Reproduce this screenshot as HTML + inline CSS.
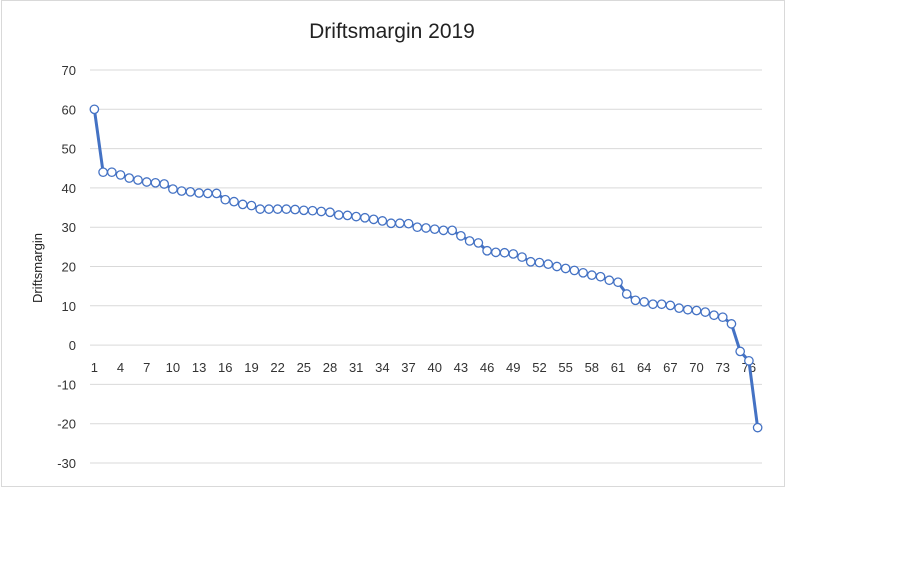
<!DOCTYPE html>
<html><head><meta charset="utf-8"><style>
body{margin:0;background:#fff;width:900px;height:581px;overflow:hidden;font-family:"Liberation Sans",sans-serif}
</style></head><body>
<svg id="chart" width="900" height="581" xmlns="http://www.w3.org/2000/svg">
<rect x="1.5" y="0.5" width="783" height="486" fill="#fff" stroke="#d9d9d9"/>
<text x="392" y="38" text-anchor="middle" font-size="21" fill="#222">Driftsmargin 2019</text>
<text transform="translate(42,268) rotate(-90)" text-anchor="middle" font-size="13" fill="#222">Driftsmargin</text>
<g id="grid"></g><g id="series"></g>
</svg>
<script>
const yTicks=[70,60,50,40,30,20,10,0,-10,-20,-30];
const values=[60,44,44,43.3,42.5,42,41.5,41.3,41,39.7,39.2,39,38.7,38.6,38.6,37,36.5,35.8,35.5,34.6,34.6,34.6,34.6,34.5,34.3,34.2,34,33.8,33.1,33,32.7,32.4,32,31.6,31,31,30.9,30,29.8,29.5,29.2,29.2,27.8,26.5,26,24,23.6,23.5,23.2,22.4,21.2,21,20.6,20,19.5,19,18.4,17.8,17.4,16.5,16,13,11.4,11,10.4,10.4,10.1,9.4,9,8.8,8.4,7.6,7.1,5.4,-1.6,-4,-21];
const categories=values.map((v,i)=>i+1);
const ns="http://www.w3.org/2000/svg";
const L=90,R=762,T=70,B=463;
const yMin=-30,yMax=70;
const y=v=>T+(yMax-v)/(yMax-yMin)*(B-T);
const cw=(R-L)/categories.length;
const x=i=>L+cw*(i+0.5);
const grid=document.getElementById('grid'),ser=document.getElementById('series');
function mk(tag,attrs,parent){const e=document.createElementNS(ns,tag);for(const k in attrs)e.setAttribute(k,attrs[k]);parent.appendChild(e);return e;}
yTicks.forEach(t=>{
 const g=mk('line',{x1:L,x2:R,y1:y(t),y2:y(t),stroke:'#d9d9d9','stroke-width':1},grid);
 
 
 const tx=mk('text',{x:76,y:y(t)+5,'text-anchor':'end','font-size':13,fill:'#333'},grid);
 tx.textContent=t;
 
 
});
categories.forEach((c,i)=>{
 if(i%3!==0)return;
 const tx=mk('text',{x:x(i),y:y(0)+27,'text-anchor':'middle','font-size':13,fill:'#333'},grid);
 tx.textContent=c;
 
 
});
const pts=values.map((v,i)=>x(i)+','+y(v)).join(' ');
const pl=mk('polyline',{points:pts,fill:'none',stroke:'#4472c4','stroke-width':3,'stroke-linejoin':'round'},ser);


values.forEach((v,i)=>{
 const c=mk('circle',{cx:x(i),cy:y(v),r:4.2,fill:'#fff',stroke:'#4472c4','stroke-width':1.3},ser);
 
 
});
</script>
</body></html>
